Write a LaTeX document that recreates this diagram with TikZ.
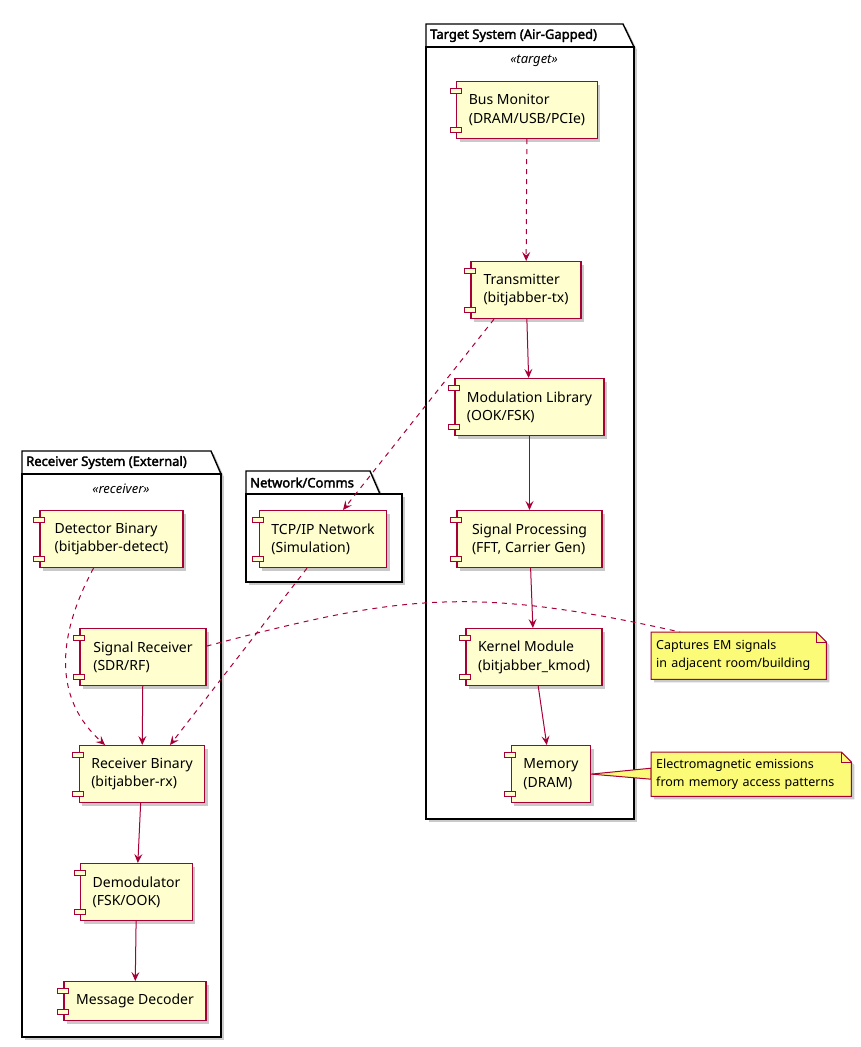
\documentclass[tikz,border=0pt]{standalone}
\usepackage{fontspec}
\setmainfont{Noto Sans}[AutoFakeBold=2.5]
\usetikzlibrary{arrows.meta,shadows,positioning}

\definecolor{umlred}{HTML}{A80036}
\definecolor{umlfill}{HTML}{FEFECE}
\definecolor{notefill}{HTML}{FBFB77}

\tikzstyle{shade}=[drop shadow={shadow xshift=3pt, shadow yshift=-3pt, fill=black!35, opacity=.6}]
\tikzstyle{comp}=[draw=umlred, fill=umlfill, line width=1.2pt, shade, anchor=north, align=left,
                  inner xsep=12pt, minimum height=57pt,
                  font=\fontsize{14}{18.5}\selectfont]
\tikzstyle{tab}=[draw=umlred, fill=umlfill, line width=1pt]
\tikzstyle{pkg}=[draw=black, fill=white, line width=1.4pt, shade]
\tikzstyle{pkgtitle}=[anchor=west, inner sep=0pt, font=\fontsize{13}{15}\selectfont\bfseries]
\tikzstyle{stereo}=[inner sep=0pt, font=\fontsize{13}{15}\selectfont\itshape]
\tikzstyle{note}=[anchor=north west, align=left, inner xsep=5pt,
                  text width=165pt, font=\fontsize{12.5}{18}\selectfont]
\tikzstyle{noteline}=[draw=umlred, fill=notefill, line width=1pt]
\tikzstyle{flow}=[umlred, line width=1pt, -{Stealth[length=9pt,width=8pt,inset=3.5pt]}]
\tikzstyle{dep}=[flow, dash pattern=on 5pt off 5pt]
\tikzstyle{link}=[umlred, line width=1pt, dash pattern=on 5pt off 5pt]

\begin{document}
\begin{tikzpicture}[x=1pt,y=-1pt]
  \useasboundingbox (0,0) rectangle (860,1047);

  % packages
  \draw[pkg] (426,47) -- (426,24) -- (623,24) -- (634,47) -- cycle;
  \draw[pkg] (426,47) rectangle (634,819);
  \node[pkgtitle] (ttarget) at (430,35.5) {Target System (Air-Gapped)};
  \node[stereo] (starget) at (534,61) {«target»};

  \draw[pkg] (22,474) -- (22,451) -- (211,451) -- (221,474) -- cycle;
  \draw[pkg] (22,474) rectangle (221,1037);
  \node[pkgtitle] (trecv) at (26,462.5) {Receiver System (External)};
  \node[stereo] (srecv) at (121,489) {«receiver»};

  \draw[pkg] (246,494) -- (246,471) -- (370,471) -- (380,494) -- cycle;
  \draw[pkg] (246,494) rectangle (402,582);
  \node[pkgtitle] (tnet) at (250,482.5) {Network/Comms};

  % components
  \node[comp, minimum width=138pt] (bus) at (527,81) {Bus Monitor\\(DRAM/USB/PCIe)};
  \node[comp, minimum width=110pt] (tx) at (526,261) {Transmitter\\(bitjabber-tx)};
  \node[comp, minimum width=149pt] (mod) at (529.5,378) {Modulation Library\\(OOK/FSK)};
  \node[comp, minimum width=145pt] (sig) at (529.5,510) {Signal Processing\\(FFT, Carrier Gen)};
  \node[comp, minimum width=134pt] (kmod) at (534,628) {Kernel Module\\(bitjabber\_kmod)};
  \node[comp, minimum width=78pt] (mem) at (551,745) {Memory\\(DRAM)};

  \node[comp, minimum width=143pt] (det) at (111.5,510) {Detector Binary\\(bitjabber-detect)};
  \node[comp, minimum width=126pt] (srx) at (143,628) {Signal Receiver\\(SDR/RF)};
  \node[comp, minimum width=124pt] (rxb) at (142,745) {Receiver Binary\\(bitjabber-rx)};
  \node[comp, minimum width=109pt] (demod) at (136.5,863) {Demodulator\\(FSK/OOK)};
  \node[comp, minimum width=142pt, minimum height=39pt] (dec) at (135,981) {Message Decoder};

  \node[comp, minimum width=126pt] (tcp) at (323,510) {TCP/IP Network\\(Simulation)};

  \foreach \n in {bus,tx,mod,sig,kmod,mem,det,srx,rxb,demod,dec,tcp} {
    \draw[tab] ([xshift=-6pt,yshift=-7pt]\n.north west) rectangle ++(11,5);
    \draw[tab] ([xshift=-6pt,yshift=7pt]\n.south west) rectangle ++(11,-5);
  }

  % notes
  \node[note, minimum width=175pt, minimum height=47pt] (n1) at (651,632)
    {Captures EM signals\\in adjacent room/building};
  \node[note, minimum width=199pt, minimum height=44pt, text width=190pt] (n2) at (651,752)
    {Electromagnetic emissions\\from memory access patterns};

  \filldraw[noteline] (mem.east) -- ([yshift=6pt]n2.west) -- ([yshift=-5pt]n2.west) -- cycle;
  \foreach \n in {n1,n2} {
    \filldraw[noteline, shade] (\n.north west) -- ([xshift=-10pt]\n.north east)
      -- ([yshift=-10pt]\n.north east) -- (\n.south east) -- (\n.south west) -- cycle;
    \draw[umlred] ([xshift=-10pt]\n.north east) -- ([xshift=-10pt,yshift=-10pt]\n.north east)
      -- ([yshift=-10pt]\n.north east);
  }
  \node[note, minimum width=175pt, minimum height=47pt] at (651,632)
    {Captures EM signals\\in adjacent room/building};
  \node[note, minimum width=199pt, minimum height=44pt, text width=190pt] at (651,752)
    {Electromagnetic emissions\\from memory access patterns};

  % connectors
  \draw[dep] (bus) -- (tx);
  \draw[flow] (tx) -- (mod);
  \draw[flow] (mod) -- (sig);
  \draw[flow] (sig) -- (kmod);
  \draw[flow] (kmod) -- (mem);
  \draw[dep] ([xshift=-32pt]tx.south) -- ([xshift=20pt]tcp.north);
  \draw[dep] ([xshift=-16pt]tcp.south) -- ([xshift=28pt]rxb.north);
  \draw[dep] ([xshift=-18pt]det.south) .. controls (55,640) and (55,700) .. ([xshift=-37pt]rxb.north);
  \draw[flow] (srx) -- (rxb);
  \draw[flow] (rxb) -- (demod);
  \draw[flow] (demod) -- (dec);
  \draw[link] ([yshift=11pt]srx.east) .. controls (400,595) and (470,585) .. ([xshift=29pt]n1.north west);
\end{tikzpicture}
\end{document}
